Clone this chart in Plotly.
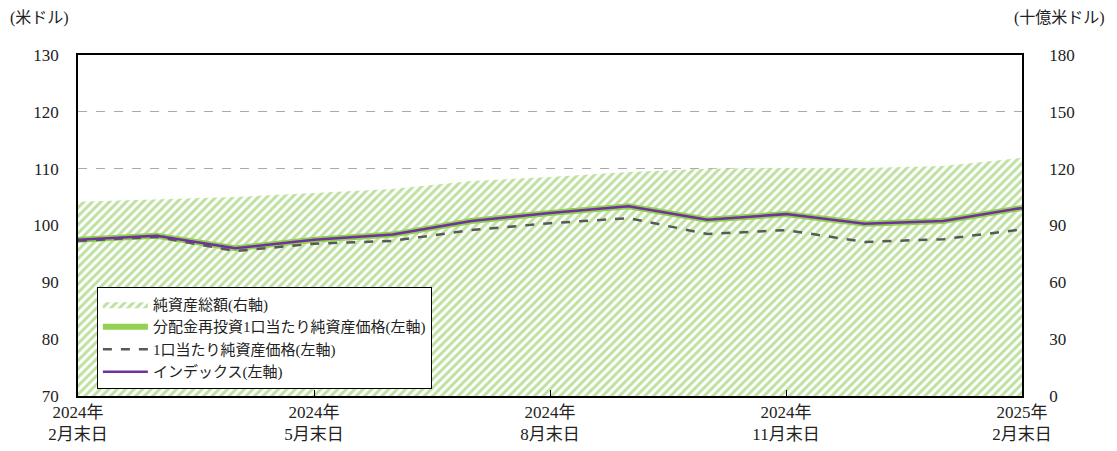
import plotly.graph_objects as go

months = ["2024-02", "2024-03", "2024-04", "2024-05", "2024-06", "2024-07", "2024-08",
          "2024-09", "2024-10", "2024-11", "2024-12", "2025-01", "2025-02"]
tick_months = ["2024-02", "2024-05", "2024-08", "2024-11", "2025-02"]
tick_text = ["2024年<br>2月末日", "2024年<br>5月末日", "2024年<br>8月末日",
             "2024年<br>11月末日", "2025年<br>2月末日"]

net_assets = [102.6, 104.0, 105.0, 107.2, 109.3, 113.5, 115.6, 118.3, 119.9, 120.4, 120.4, 121.4, 125.7]
nav_reinvested = [97.5, 98.2, 96.0, 97.5, 98.4, 100.8, 102.2, 103.4, 101.0, 102.0, 100.3, 100.8, 103.1]
nav_per_unit = [97.3, 98.0, 95.5, 96.8, 97.3, 99.2, 100.4, 101.3, 98.5, 99.2, 97.1, 97.6, 99.3]
index_vals = [97.5, 98.2, 96.0, 97.5, 98.4, 100.8, 102.2, 103.4, 101.0, 102.0, 100.3, 100.8, 103.1]

left_ticks = [70, 80, 90, 100, 110, 120, 130]
right_ticks = [0, 30, 60, 90, 120, 150, 180]

FONT = "Liberation Serif, DejaVu Serif, Noto Sans CJK JP, serif"
GREEN = "#92d050"
HATCH = "#7dc242"

fig = go.Figure()
fig.add_trace(go.Scatter(
    x=months, y=net_assets, name="純資産総額(右軸)", mode="lines",
    line=dict(width=0, color=GREEN), fill="tozeroy",
    fillpattern=dict(shape="/", fgcolor=HATCH, bgcolor="white", size=6, solidity=0.5),
    yaxis="y"))
fig.add_trace(go.Scatter(
    x=months, y=nav_reinvested, name="分配金再投資1口当たり純資産価格(左軸)", mode="lines",
    line=dict(width=6, color=GREEN), yaxis="y2"))
fig.add_trace(go.Scatter(
    x=months, y=nav_per_unit, name="1口当たり純資産価格(左軸)", mode="lines",
    line=dict(width=2.5, color="#595959", dash="dash"), yaxis="y2"))
fig.add_trace(go.Scatter(
    x=months, y=index_vals, name="インデックス(左軸)", mode="lines",
    line=dict(width=2.5, color="#7030a0"), yaxis="y2"))

fig.update_layout(
    width=1109, height=443,
    margin=dict(l=70, r=95, t=47, b=55, autoexpand=False),
    paper_bgcolor="white", plot_bgcolor="white",
    font=dict(family=FONT, size=17, color="#222222"),
    showlegend=True,
    legend=dict(x=0.02, y=0.32, xanchor="left", yanchor="top",
                bgcolor="white", bordercolor="black", borderwidth=1,
                font=dict(family=FONT, size=15, color="#222222"),
                tracegroupgap=0, itemwidth=45),
    xaxis=dict(type="category", categoryorder="array", categoryarray=months,
               range=[0, len(months) - 1], tickvals=tick_months, ticktext=tick_text,
               ticks="inside", ticklen=6, tickcolor="black", showgrid=False,
               showline=True, linecolor="black", linewidth=1.5, mirror=True,
               automargin=False, tickfont=dict(family=FONT, size=17)),
    yaxis=dict(side="right", range=[0, 180], tickvals=right_ticks, showgrid=False,
               showline=True, linecolor="black", linewidth=1.5, ticks="",
               ticklabelstandoff=22, zeroline=False, automargin=False,
               tickfont=dict(family=FONT, size=17)),
    yaxis2=dict(side="left", overlaying="y", range=[70, 130], tickvals=left_ticks,
                showgrid=True, gridcolor="#aaaaaa", griddash="dash", gridwidth=1,
                showline=True, linecolor="black", linewidth=1.5, ticks="",
                ticklabelstandoff=14, zeroline=False, automargin=False,
                tickfont=dict(family=FONT, size=17)),
    annotations=[
        dict(text="(米ドル)", xref="paper", yref="paper", x=-0.074, y=1.0, yshift=37,
             xanchor="left", yanchor="middle", showarrow=False, font=dict(family=FONT, size=16)),
        dict(text="(十億米ドル)", xref="paper", yref="paper", x=1.09, y=1.0, yshift=37,
             xanchor="right", yanchor="middle", showarrow=False, font=dict(family=FONT, size=16)),
    ],
)

fig.write_html("out.html")
